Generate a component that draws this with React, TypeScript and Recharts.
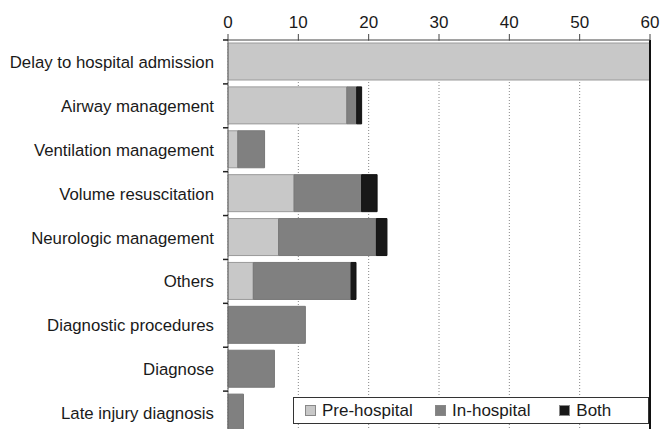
import { BarChart, Bar, XAxis, YAxis, CartesianGrid, Legend, ReferenceLine } from 'recharts';

const categories = [
  'Delay to hospital admission',
  'Airway management',
  'Ventilation management',
  'Volume resuscitation',
  'Neurologic management',
  'Others',
  'Diagnostic procedures',
  'Diagnose',
  'Late injury diagnosis',
];
const preHospital = [60, 16.9, 1.4, 9.4, 7.2, 3.6, 0, 0, 0];
const inHospital = [0, 1.4, 3.8, 9.6, 13.9, 13.9, 11, 6.6, 2.2];
const both = [0, 0.7, 0, 2.2, 1.5, 0.7, 0, 0, 0];
const seriesNames = ['Pre-hospital', 'In-hospital', 'Both'];
const xTicks = [0, 10, 20, 30, 40, 50, 60];

const COLORS = {
  pre: '#c8c8c8',
  inh: '#808080',
  both: '#181818',
};

const FONT = '"Liberation Sans", Arial, sans-serif';
const WIDTH = 660;
const HEIGHT = 435;
const MARGIN_TOP = 8;
const AXIS_H = 32;
const BAND = (HEIGHT - MARGIN_TOP - AXIS_H) / categories.length;

const data = categories.map((name, i) => ({
  name,
  pre: preHospital[i],
  inh: inHospital[i],
  both: both[i],
}));

// label centred in the band, tick mark on the band's upper edge
function CategoryTick(props: any) {
  const { x, y, payload } = props;
  const edge = y - BAND / 2;
  return (
    <g>
      <line x1={x + 9} x2={x + 14} y1={edge} y2={edge} stroke="#222" strokeWidth={1.5} />
      <text x={x} y={y} dy={6} textAnchor="end" fill="#1a1a1a" fontSize={16.8} fontFamily={FONT}>
        {payload.value}
      </text>
    </g>
  );
}

function LegendBox(props: any) {
  const payload = [...(props.payload || [])].sort(
    (a: any, b: any) => seriesNames.indexOf(a.value) - seriesNames.indexOf(b.value)
  );
  const widths = [132, 126, 90];
  return (
    <div
      style={{
        display: 'flex',
        alignItems: 'center',
        height: 25,
        border: '1px solid #333',
        background: '#fff',
        fontFamily: FONT,
        fontSize: 17,
        color: '#1a1a1a',
        paddingLeft: 11,
      }}
    >
      {payload.map((entry: any, i: number) => (
        <div key={entry.value} style={{ display: 'flex', alignItems: 'center', width: widths[i] }}>
          <span
            style={{
              width: 9,
              height: 9,
              background: entry.color,
              border: '1px solid #888',
              marginRight: 6,
            }}
          />
          {entry.value}
        </div>
      ))}
    </div>
  );
}

export default function App() {
  return (
    <div
      style={{
        position: 'fixed',
        left: 0,
        top: 0,
        width: WIDTH,
        height: 429,
        overflow: 'hidden',
        background: '#fff',
      }}
    >
      <BarChart
        width={WIDTH}
        height={HEIGHT}
        data={data}
        layout="vertical"
        margin={{ top: MARGIN_TOP, right: 10, bottom: 0, left: 0 }}
        barSize={37}
      >
        <CartesianGrid horizontal={false} stroke="#888" strokeDasharray="1 2" />
        <XAxis
          type="number"
          orientation="top"
          domain={[0, 60]}
          ticks={xTicks}
          height={AXIS_H}
          tickSize={6}
          tickMargin={6}
          stroke="#444"
          tick={{ fill: '#1a1a1a', fontSize: 17, fontFamily: FONT }}
        />
        <YAxis
          type="category"
          dataKey="name"
          width={228}
          tickLine={false}
          tickSize={5}
          tickMargin={9}
          stroke="#666"
          interval={0}
          tick={<CategoryTick />}
        />
        <Bar dataKey="pre" name={seriesNames[0]} stackId="a" fill={COLORS.pre} stroke="#9a9a9a" isAnimationActive={false} />
        <Bar dataKey="inh" name={seriesNames[1]} stackId="a" fill={COLORS.inh} stroke="#777" isAnimationActive={false} />
        <Bar dataKey="both" name={seriesNames[2]} stackId="a" fill={COLORS.both} stroke="#111" isAnimationActive={false} />
        <ReferenceLine x={60} stroke="#111" strokeWidth={2} />
        <Legend
          layout="horizontal"
          verticalAlign="middle"
          align="center"
          content={<LegendBox />}
          wrapperStyle={{ left: 293, top: 397, width: 356, height: 27 }}
        />
      </BarChart>
    </div>
  );
}
